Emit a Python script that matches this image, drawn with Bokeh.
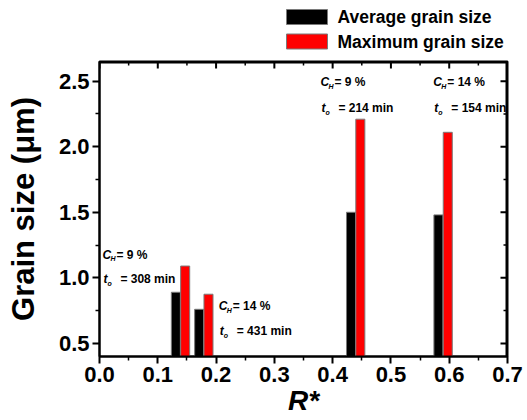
import math
from bokeh.plotting import figure
from bokeh.layouts import column
from bokeh.models import (Range1d, FixedTicker, LabelSet,
                          ColumnDataSource, PrintfTickFormatter)
from bokeh.core.properties import value
from bokeh.embed import file_html
from bokeh.resources import INLINE

# ---- data ----
r_star = [0.139, 0.179, 0.4395, 0.5895]
avg_size = [0.89, 0.76, 1.50, 1.48]
max_size = [1.09, 0.875, 2.21, 2.11]
series_names = ["Average grain size", "Maximum grain size"]
series_colors = ["#000000", "#ff0000"]
ch_labels = ["= 9 %", "= 14 %", "= 9 %", "= 14 %"]
to_labels = ["= 308 min", "= 431 min", "= 214 min", "= 154 min"]
note_x = [0.005, 0.2045, 0.379, 0.5727]
note_ch_y = [1.177, 0.782, 2.491, 2.491]
note_to_y = [0.989, 0.592, 2.292, 2.292]
x_ticks = [0.0, 0.1, 0.2, 0.3, 0.4, 0.5, 0.6, 0.7]
x_minor = [0.05, 0.15, 0.25, 0.35, 0.45, 0.55, 0.65]
y_ticks = [0.5, 1.0, 1.5, 2.0, 2.5]
y_minor = [0.75, 1.25, 1.75, 2.25]

X_MIN, X_MAX = 0.0, 0.7
Y_MIN, Y_MAX = 0.4, 2.65
dodge = 0.008
bar_w = 0.0155
FONT = "Liberation Sans"
W = 527
LEG_H = 56
BORDER_L, BORDER_R = 99, 20

# ---- legend strip above the chart (its frame is aligned with the chart's) ----
leg = figure(width=W, height=LEG_H, output_backend="svg", toolbar_location=None,
             x_range=Range1d(BORDER_L, W - BORDER_R), y_range=Range1d(0, LEG_H),
             x_axis_type=None, y_axis_type=None, min_border=0,
             min_border_left=BORDER_L, min_border_right=BORDER_R)
leg.xgrid.visible = False
leg.ygrid.visible = False
leg.outline_line_color = None
lsrc = ColumnDataSource(dict(name=series_names, color=series_colors,
                             x=[306.5, 306.5], y=[39.5, 15.0],
                             tx=[337, 337]))
leg.rect(x="x", y="y", width=41, height=15, source=lsrc,
         fill_color="color", line_color="#7a7a7a", line_width=1)
leg.text(x="tx", y="y", text="name", source=lsrc, text_font=value(FONT),
         text_font_style="bold", text_font_size="17.5px",
         text_baseline="middle", text_align="left", text_color="black")

# ---- main chart ----
p = figure(width=W, height=420 - LEG_H, output_backend="svg",
           toolbar_location=None,
           x_range=Range1d(X_MIN, X_MAX), y_range=Range1d(Y_MIN, Y_MAX),
           min_border_left=BORDER_L, min_border_right=BORDER_R,
           min_border_top=61 - LEG_H, min_border_bottom=64)
p.xgrid.visible = False
p.ygrid.visible = False
p.outline_line_color = "black"
p.outline_line_width = 2

src = ColumnDataSource(dict(
    xa=[r - dodge for r in r_star], xm=[r + dodge for r in r_star],
    avg=avg_size, mx=max_size))
p.vbar(x="xa", top="avg", bottom=0, width=bar_w, source=src,
       fill_color=series_colors[0], line_color="#7a7a7a", line_width=1)
p.vbar(x="xm", top="mx", bottom=0, width=bar_w, source=src,
       fill_color=series_colors[1], line_color="#7a7a7a", line_width=1)

# top and right frame edges with inward ticks
p.segment(x0=[X_MIN, X_MAX], y0=[Y_MAX, Y_MIN], x1=[X_MAX, X_MAX],
          y1=[Y_MAX, Y_MAX], line_color="black", line_width=4)
p.ray(x=x_ticks, y=[Y_MAX] * len(x_ticks), length=7, length_units="screen",
      angle=-math.pi / 2, line_color="black", line_width=2)
p.ray(x=x_minor, y=[Y_MAX] * len(x_minor), length=4, length_units="screen",
      angle=-math.pi / 2, line_color="black", line_width=1.5)
p.ray(x=[X_MAX] * len(y_ticks), y=y_ticks, length=7, length_units="screen",
      angle=math.pi, line_color="black", line_width=2)
p.ray(x=[X_MAX] * len(y_minor), y=y_minor, length=4, length_units="screen",
      angle=math.pi, line_color="black", line_width=1.5)


def style_axis(ax):
    ax.axis_line_width = 2
    ax.axis_line_color = "black"
    ax.major_tick_line_width = 2
    ax.minor_tick_line_width = 1.5
    ax.major_tick_line_color = "black"
    ax.minor_tick_line_color = "black"
    ax.major_label_text_font = FONT
    ax.major_label_text_font_style = "bold"
    ax.major_label_text_color = "black"
    ax.formatter = PrintfTickFormatter(format="%.1f")
    ax.major_tick_in = 0
    ax.major_tick_out = 7
    ax.minor_tick_in = 0
    ax.minor_tick_out = 4
    ax.major_label_text_font_size = "22px"
    ax.major_label_standoff = 3


xa = p.xaxis[0]
xa.ticker = FixedTicker(ticks=x_ticks, minor_ticks=x_minor)
style_axis(xa)
xa.axis_label = "R*"
xa.axis_label_text_font = FONT
xa.axis_label_text_font_style = "bold italic"
xa.axis_label_text_font_size = "28px"
xa.axis_label_text_color = "black"
xa.axis_label_standoff = 0

ya = p.yaxis[0]
ya.ticker = FixedTicker(ticks=y_ticks, minor_ticks=y_minor)
style_axis(ya)
ya.axis_label = "Grain size (\u03bcm)"
ya.axis_label_text_font = FONT
ya.axis_label_text_font_style = "bold"
ya.axis_label_text_font_size = "31px"
ya.axis_label_text_color = "black"
ya.axis_label_standoff = 15

# annotations
nsrc = ColumnDataSource(dict(x=note_x, ych=note_ch_y, yto=note_to_y,
                             ch=ch_labels, to=to_labels,
                             C=["C"] * 4, H=["H"] * 4, t=["t"] * 4, o=["o"] * 4))


def note(y, text, style, size, dx, dy=0):
    p.add_layout(LabelSet(x="x", y=y, text=text, source=nsrc,
                          x_offset=dx, y_offset=dy, text_font=value(FONT),
                          text_font_style=style, text_font_size=size,
                          text_baseline="middle", text_align="left",
                          text_color="black"))


note("ych", "C", "bold italic", "12px", 0)
note("ych", "H", "bold italic", "7px", 8, -4)
note("ych", "ch", "bold", "12px", 14)
note("yto", "t", "bold italic", "12px", 1)
note("yto", "o", "bold italic", "7px", 5, -4)
note("yto", "to", "bold", "12px", 18)

layout = column(leg, p, spacing=0)
open("out.html", "w").write(file_html(layout, INLINE))
